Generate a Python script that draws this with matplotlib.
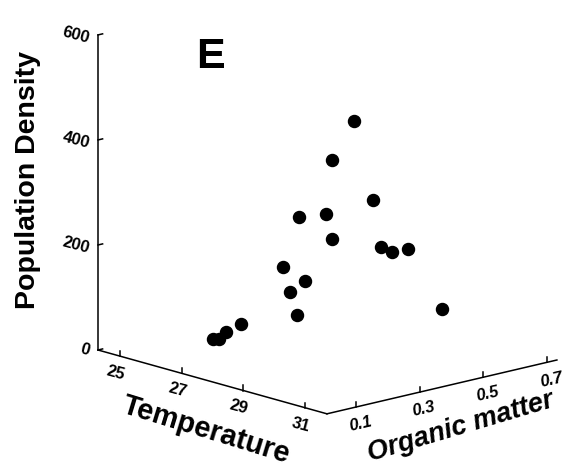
import numpy as np
import matplotlib.pyplot as plt
from mpl_toolkits.mplot3d import proj3d

# values (temperature, organic matter, population density)
temperature = [27.5, 27.6, 27.7, 28.0, 29.5, 29.2, 29.6, 29.0, 30.0,
               29.4, 29.8, 30.0, 30.2, 30.5, 30.8, 30.8, 30.9, 31.2]
organic = [0.06, 0.07, 0.08, 0.10, 0.13, 0.135, 0.145, 0.135, 0.19,
           0.145, 0.19, 0.19, 0.24, 0.27, 0.265, 0.30, 0.34, 0.42]
density = [66, 67, 81, 97, 135, 173, 200, 218, 280,
           318, 324, 430, 501, 351, 267, 253, 254, 133]

t_ticks = [25, 27, 29, 31]
om_ticks = [0.1, 0.3, 0.5, 0.7]
om_labels = ['0.1', '0.3', '0.5', '0.7']
d_ticks = [0, 200, 400, 600]

T_LIM = (24.3, 31.7)
OM_LIM = (0.01, 0.73)
D_LIM = (0, 600)

plt.rcParams['font.family'] = ['Liberation Sans', 'DejaVu Sans']
plt.rcParams['font.weight'] = 'bold'

W, H = 577, 469
fig = plt.figure(figsize=(W / 100, H / 100), dpi=100)
ax = fig.add_axes([0, 0, 1, 1], projection='3d')
ax.set_proj_type('ortho')
ax.view_init(elev=14.8, azim=-42.5)
ax.set_box_aspect((339, 312, 326))

ax.scatter(temperature, organic, density, s=75, c='black', depthshade=False)

ax.set_xlim(*T_LIM, view_margin=0)
ax.set_ylim(*OM_LIM, view_margin=0)
ax.set_zlim(*D_LIM, view_margin=0)

ax.set_xticks(t_ticks)
ax.set_yticks(om_ticks)
ax.set_yticklabels(om_labels)
ax.set_zticks(d_ticks)

ax.zaxis.set_ticks_position('lower')

ax.grid(False)
for axis in (ax.xaxis, ax.yaxis, ax.zaxis):
    axis.set_pane_color((1, 1, 1, 0))
    axis.pane.set_edgecolor((1, 1, 1, 0))
    axis.line.set_color('black')
    axis.line.set_linewidth(1.1)
    axis._axinfo['tick']['linewidth'] = {True: 1.1, False: 0.5}

# floor axes: short ticks standing straight up, like the original
for axis in (ax.xaxis, ax.yaxis):
    axis._get_tickdir = lambda *args, **kw: 2
    axis._axinfo['tick']['inward_factor'] = 0.2
    axis._axinfo['tick']['outward_factor'] = 0.0
ax.zaxis._axinfo['tick']['inward_factor'] = 0.0
ax.zaxis._axinfo['tick']['outward_factor'] = 0.25

ax.xaxis.set_tick_params(labelsize=12, labelrotation=-15, pad=-4)
ax.yaxis.set_tick_params(labelsize=12, labelrotation=13, pad=-4)
ax.zaxis.set_tick_params(labelsize=12, labelrotation=-15, pad=-5)


def style_ticklabels():
    for lab in ax.get_yticklabels():
        lab.set_fontstyle('italic')
    for lab in ax.get_zticklabels():
        lab.set_horizontalalignment('right')
        lab.set_verticalalignment('center')


def to_px(x, y, z):
    xs, ys, _ = proj3d.proj_transform(x, y, z, ax.get_proj())
    return ax.transData.transform((xs, ys))


# fit the box so its floor corners sit where they are in the source figure
target_a = np.array([98, H - 350])
target_c = np.array([557, H - 353])
for _ in range(3):
    style_ticklabels()
    fig.canvas.draw()
    pa = to_px(T_LIM[0], OM_LIM[0], D_LIM[0])
    pc = to_px(T_LIM[1], OM_LIM[1], D_LIM[0])
    s = np.linalg.norm(target_c - target_a) / np.linalg.norm(pc - pa)
    bb = ax.get_position()
    x0, y0 = bb.x0 * W, bb.y0 * H
    nx0 = target_a[0] - s * (pa[0] - x0)
    ny0 = target_a[1] - s * (pa[1] - y0)
    ax.set_position([nx0 / W, ny0 / H, bb.width * s, bb.height * s])
style_ticklabels()

# axis titles
fig.text(206 / W, 1 - 430 / H, 'Temperature', fontsize=21, rotation=-17,
         ha='center', va='center', rotation_mode='anchor')
fig.text(461 / W, 1 - 427 / H, 'Organic matter', fontsize=19.5, style='italic',
         rotation=16.5, ha='center', va='center', rotation_mode='anchor')
fig.text(28 / W, 1 - 180 / H, 'Population Density', fontsize=20.5, rotation=90,
         ha='center', va='center')

fig.text(196 / W, 1 - 68 / H, 'E', fontsize=31, va='baseline')

fig.savefig('out.png', dpi=100, facecolor='white')
